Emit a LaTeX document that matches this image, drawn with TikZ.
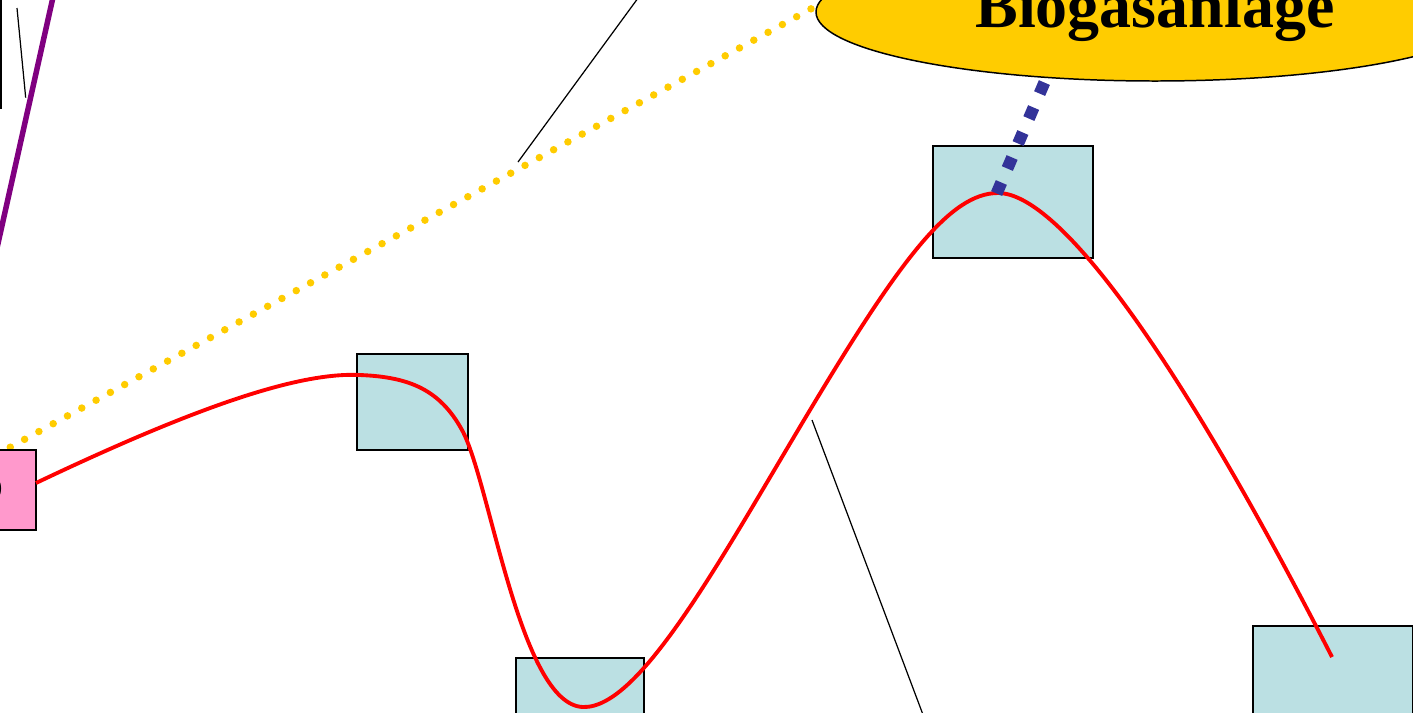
\documentclass[tikz,border=0pt]{standalone}
\usepackage{fontspec}
\setmainfont{Liberation Serif}
\usepackage{xcolor}
\usetikzlibrary{positioning,shapes.geometric,calc}

\definecolor{boxblue}{RGB}{187,224,227}
\definecolor{boxpink}{RGB}{255,153,204}
\definecolor{gasyellow}{RGB}{255,204,0}
\definecolor{pipeblue}{RGB}{51,51,153}
\definecolor{lila}{RGB}{128,0,128}

\begin{document}
\begin{tikzpicture}[x=0.2mm,y=-0.2mm,
  bx/.style={draw,line width=0.85pt,fill=boxblue,inner sep=0pt},
  thin line/.style={draw,line width=0.7pt},
  big/.style={font=\fontsize{36.4}{40}\selectfont\bfseries}]
\useasboundingbox (0,0) rectangle (1413,712);
\clip (0,0) rectangle (1413,712);

% boxes
\node[bx,minimum width=22.2mm,minimum height=19.2mm] (k1) at (412.5,402) {};
\node[bx,minimum width=32mm,minimum height=22.4mm] (k2) at (1013,202) {};
\node[bx,minimum width=25.6mm,minimum height=22.4mm] (k3) at (580,714) {};
\node[bx,minimum width=32mm,minimum height=22.4mm] (k4) at (1333,682) {};

% gas line
\coordinate (g0) at (-4,455);
\node[ellipse,draw,line width=0.85pt,fill=gasyellow,minimum width=135.6mm,
  minimum height=27.6mm,inner sep=0pt,big] (bga) at (1155,12) {Biogasanlage};
\draw[gasyellow,line width=1.5mm,line cap=round,dash pattern=on 0pt off 3.26mm]
  (g0) -- (818,5);
\node[bx,fill=boxpink,minimum width=20mm,minimum height=16mm] (start) at (-14,490) {};
\node[anchor=east,inner sep=0pt,font=\fontsize{26}{30}\selectfont\bfseries] (starttxt) at (4,489) {o};

% red curve
\coordinate (r0) at (36,483);
\coordinate (r5) at (1332,657);
\draw[red,line width=2.2pt] (r0) .. controls (200,405) and (300,372) .. (360,375)
  .. controls (410,377) and (440,390) .. (462,430)
  .. controls (490,481) and (520,705) .. (583,707)
  .. controls (640,709) and (720,560) .. (810,410)
  .. controls (900,260) and (950,193) .. (998,193)
  .. controls (1060,193) and (1180,360) .. (r5);

% pipe
\coordinate (p0) at (996.6,193.5);
\coordinate (p1) at (1044.4,82.5);
\draw[pipeblue,line width=2.4mm,dash pattern=on 2.4mm off 3.04mm] (p0) -- (p1);

% other lines
\coordinate (l0) at (0.8,-5);
\coordinate (l1) at (0.8,109);
\draw[line width=1.6pt] (l0) -- (l1);
\coordinate (m0) at (17,8);
\coordinate (m1) at (25.7,97.7);
\draw[thin line] (m0) -- (m1);
\coordinate (v0) at (53.5,-5);
\coordinate (v1) at (-3,248);
\draw[lila,line width=1.1mm] (v0) -- (v1);
\coordinate (a0) at (518,162);
\coordinate (a1) at (641,-6);
\draw[thin line] (a0) -- (a1);
\coordinate (b0) at (812,420);
\coordinate (b1) at (925,720);
\draw[thin line] (b0) -- (b1);
\end{tikzpicture}
\end{document}
